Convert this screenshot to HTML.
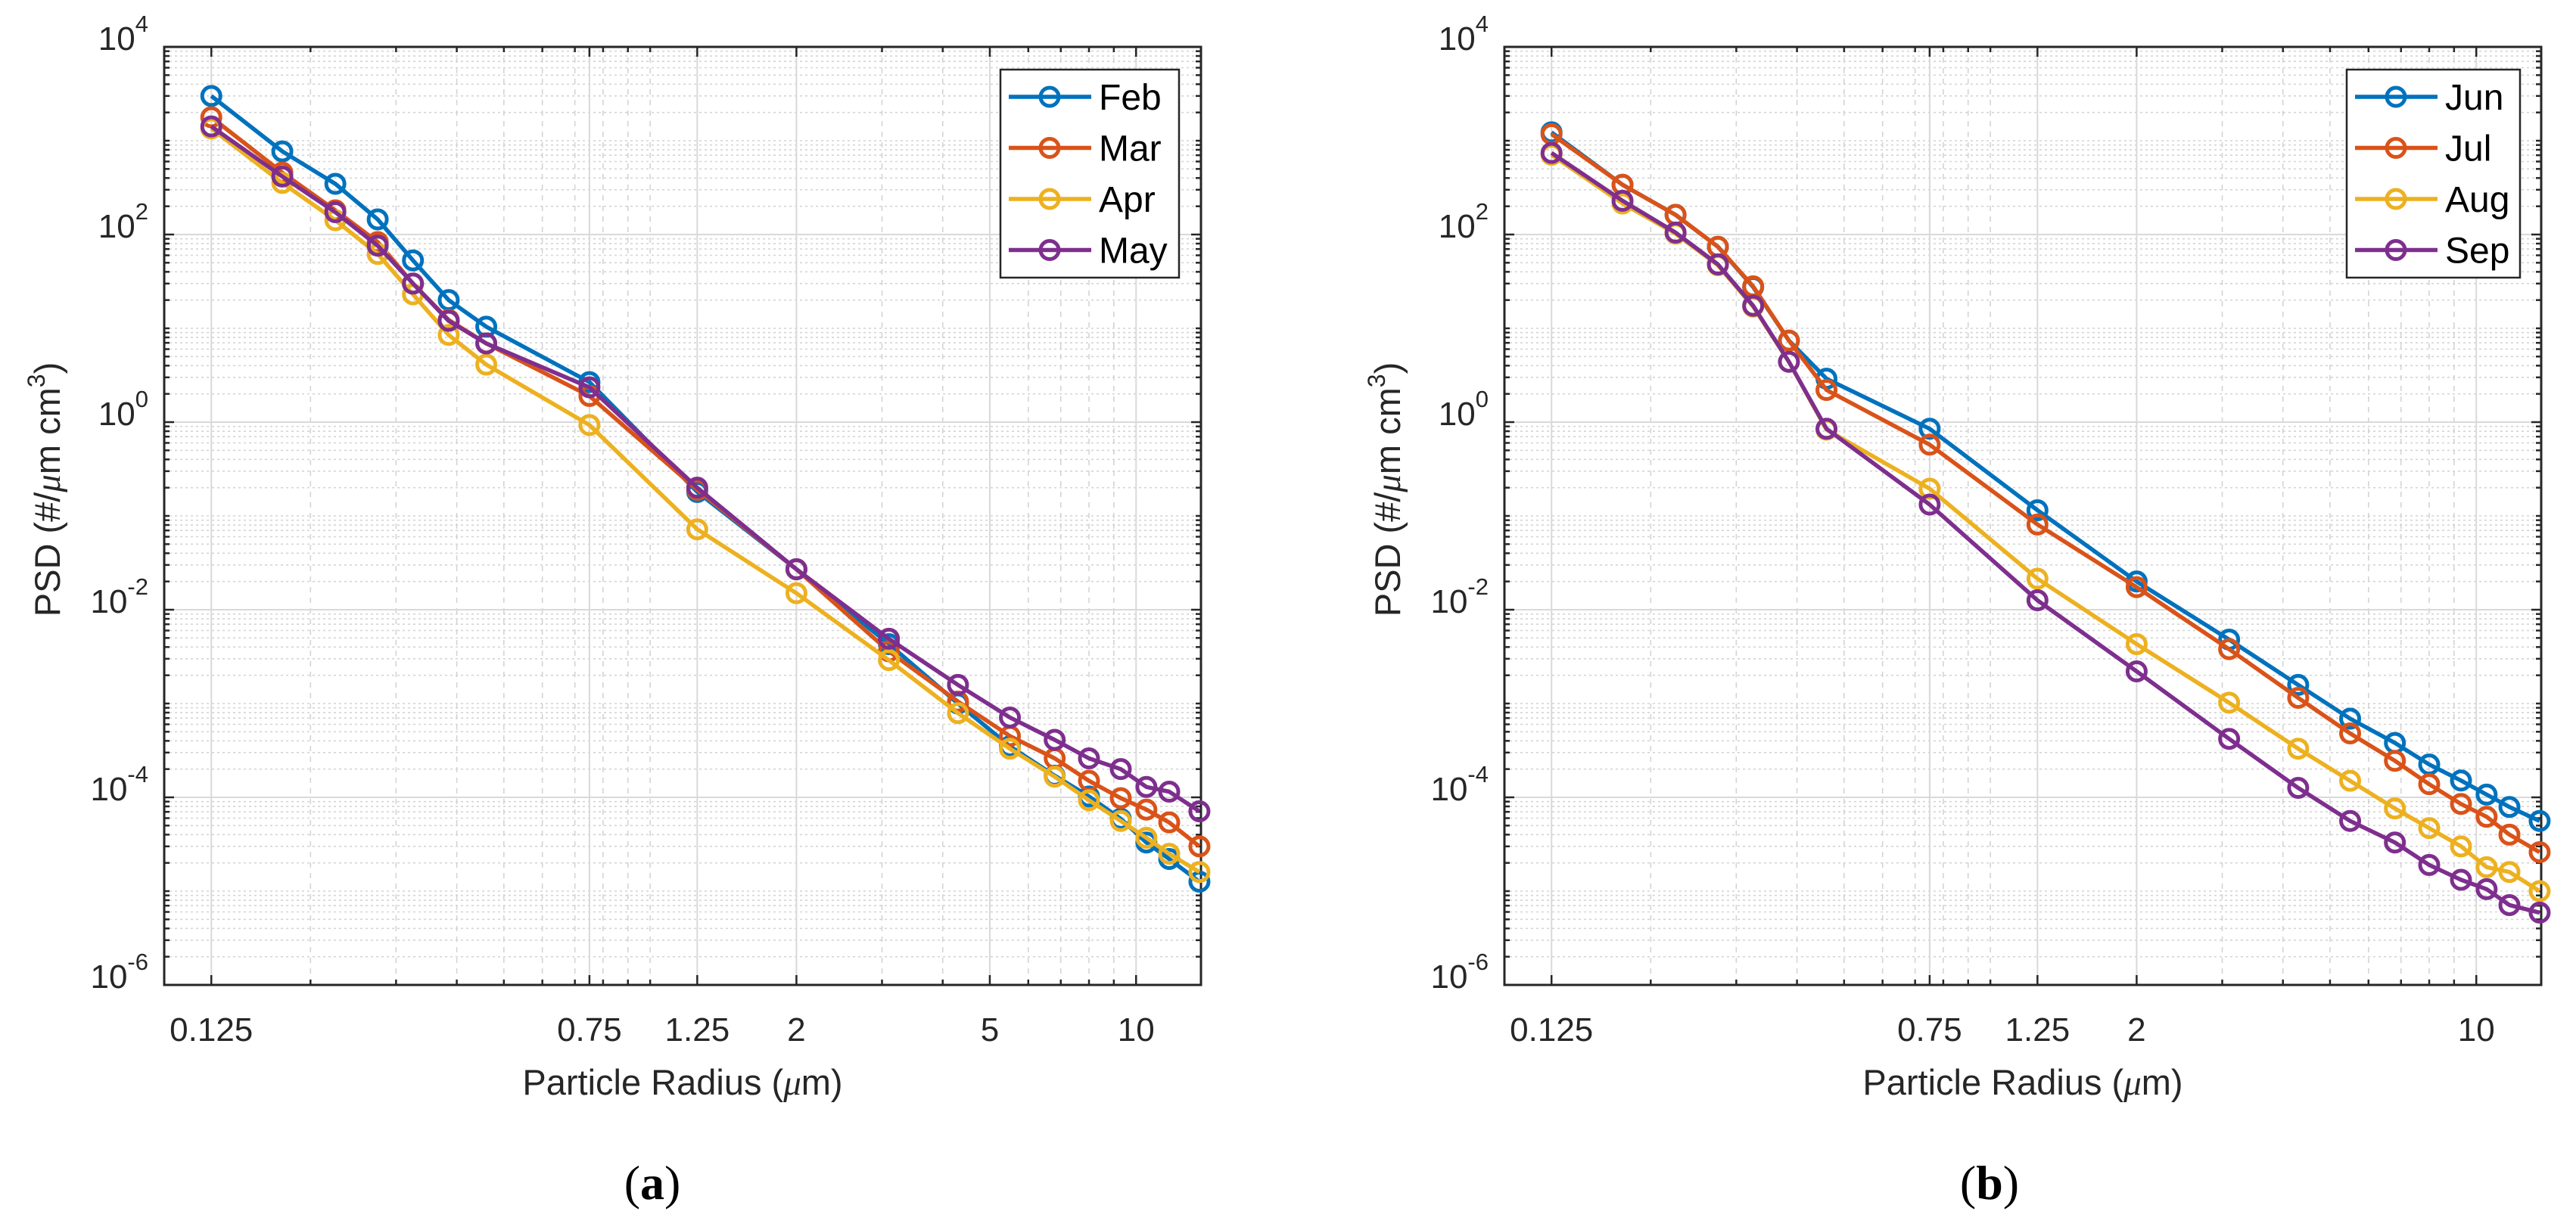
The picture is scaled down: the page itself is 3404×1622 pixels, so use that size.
<!DOCTYPE html>
<html><head><meta charset="utf-8"><style>
html,body{margin:0;padding:0;background:#fff;}
svg{display:block;font-family:"Liberation Sans",Arial,sans-serif;}
</style></head><body>
<svg id="fig" xmlns="http://www.w3.org/2000/svg" width="3404" height="1622" viewBox="0 0 3404 1622"></svg>
<script>
const radii = [0.125,0.175,0.225,0.275,0.325,0.385,0.46,0.75,1.25,2,3.1,4.3,5.5,6.8,8.0,9.3,10.5,11.7,13.5];
const monthsA = ["Feb","Mar","Apr","May"];
const monthsB = ["Jun","Jul","Aug","Sep"];
const febVals = [3000,770,347,145,53,20,10.4,2.67,0.18,0.027,4.3e-3,1.0e-3,3.5e-4,1.7e-4,1.02e-4,5.9e-5,3.3e-5,2.2e-5,1.26e-5];
const marVals = [1780,457,181,83,30,12.3,6.9,1.9,0.19,0.027,3.6e-3,1.05e-3,4.5e-4,2.6e-4,1.5e-4,9.8e-5,7.4e-5,5.4e-5,3.0e-5];
const aprVals = [1350,355,142,62,23,8.5,4.1,0.93,0.072,0.015,2.9e-3,7.9e-4,3.3e-4,1.66e-4,9.3e-5,5.6e-5,3.7e-5,2.5e-5,1.6e-5];
const mayVals = [1420,415,173,76,30,12,6.9,2.35,0.2,0.027,4.9e-3,1.58e-3,7.1e-4,4.1e-4,2.6e-4,2.0e-4,1.29e-4,1.15e-4,7.1e-5];
const junVals = [1230,339,162,74,27.5,7.4,2.9,0.85,0.115,0.02,4.8e-3,1.58e-3,6.9e-4,3.8e-4,2.24e-4,1.51e-4,1.07e-4,7.9e-5,5.6e-5];
const julVals = [1175,339,162,74,28,7.4,2.2,0.575,0.081,0.0174,3.8e-3,1.15e-3,4.8e-4,2.45e-4,1.38e-4,8.5e-5,6.2e-5,4.0e-5,2.6e-5];
const augVals = [708,214,102,47,17,4.4,0.83,0.195,0.0214,4.3e-3,1.02e-3,3.3e-4,1.5e-4,7.6e-5,4.7e-5,3.0e-5,1.8e-5,1.6e-5,1.0e-5];
const sepVals = [741,229,105,48,17.4,4.4,0.85,0.132,0.0126,2.2e-3,4.2e-4,1.26e-4,5.6e-5,3.3e-5,1.9e-5,1.32e-5,1.05e-5,7.1e-6,5.9e-6];
const xTicksA = [0.125,0.75,1.25,2,5,10];
const xTickLabelsA = ["0.125","0.75","1.25","2","5","10"];
const xTicksB = [0.125,0.75,1.25,2,10];
const xTickLabelsB = ["0.125","0.75","1.25","2","10"];
const yTickExps = [4,2,0,-2,-4,-6];
const colors = ["#0072BD","#D95319","#EDB120","#7E2F8E"];

const NS = "http://www.w3.org/2000/svg";
const svg = document.getElementById("fig");
function mk(tag, attrs, parent){
  const e = document.createElementNS(NS, tag);
  for (const k in attrs) e.setAttribute(k, attrs[k]);
  (parent||svg).appendChild(e);
  return e;
}

function drawPlot(cfg){
  const L = cfg.left, R = cfg.left + 1370, T = 62, B = 1302;
  const xMin = Math.log10(0.1), xMax = Math.log10(13.6);
  const yMin = -6, yMax = 4;
  const xs = v => L + (Math.log10(v) - xMin) / (xMax - xMin) * (R - L);
  const ys = v => B - (Math.log10(v) - yMin) / (yMax - yMin) * (B - T);
  const g = mk("g", {});
  
  
  const grid = mk("g", {}, g);
  
  
  const minorX = [];
  for (const d of [0.1,1]) for (let m=2; m<=9; m++) minorX.push(m*d);
  minorX.push(1);
  minorX.push(10);
  const isMajorX = v => cfg.xTicks.some(t => Math.abs(t - v) < 1e-9);
  for (const v of minorX) {
    if (isMajorX(v) || v > 13.6) continue;
    mk("line", {x1:xs(v),x2:xs(v),y1:T,y2:B,stroke:"#d4d4d4","stroke-width":1.6,"stroke-dasharray":"7,7"}, grid);
  }
  for (let e=-6; e<4; e++) {
    for (let m=1; m<=9; m++) {
      if (m===1 && e%2===0) continue;
      const v = m*Math.pow(10,e);
      mk("line", {x1:L,x2:R,y1:ys(v),y2:ys(v),stroke:"#d4d4d4","stroke-width":1.6,"stroke-dasharray":"3,4"}, grid);
    }
  }
  for (const t of cfg.xTicks) mk("line", {x1:xs(t),x2:xs(t),y1:T,y2:B,stroke:"#d9d9d9","stroke-width":2}, grid);
  for (const e of yTickExps) { if (e===4||e===-6) continue; const y = ys(Math.pow(10,e)); mk("line", {x1:L,x2:R,y1:y,y2:y,stroke:"#d9d9d9","stroke-width":2}, grid); }
  const tk = mk("g", {stroke:"#262626","stroke-width":2.5}, g);
  for (const t of cfg.xTicks) { const x = xs(t); mk("line",{x1:x,x2:x,y1:B,y2:B-13},tk); mk("line",{x1:x,x2:x,y1:T,y2:T+13},tk); }
  for (const v of minorX) { if (isMajorX(v) || v > 13.6) continue; const x = xs(v); mk("line",{x1:x,x2:x,y1:B,y2:B-7},tk); mk("line",{x1:x,x2:x,y1:T,y2:T+7},tk); }
  for (let e=-6; e<=4; e++) for (let m=1; m<=9; m++) {
    if (e===4 && m>1) continue;
    const y = ys(m*Math.pow(10,e));
    const len = (m===1 && e%2===0) ? 13 : 7;
    mk("line",{x1:L,x2:L+len,y1:y,y2:y},tk); mk("line",{x1:R,x2:R-len,y1:y,y2:y},tk);
  }
  const box = mk("rect", {x:L,y:T,width:R-L,height:B-T,fill:"none",stroke:"#262626","stroke-width":3}, g);
  
  
  cfg.xTicks.forEach((t,i) => {
    const tx = mk("text", {x:xs(t), y:1376, "text-anchor":"middle", "font-size":44, fill:"#262626"}, g);
    tx.textContent = cfg.xLabels[i];
    
    
  });
  for (const e of yTickExps) {
    const y = ys(Math.pow(10,e));
    const tx = mk("text", {x:L-21, y:y+4, "text-anchor":"end", "font-size":44, fill:"#262626"}, g);
    
    
    const a = mk("tspan", {}, tx); a.textContent = "10";
    const b = mk("tspan", {dy:-24, "font-size":31}, tx); b.textContent = String(e);
  }
  const xl = mk("text", {x:(L+R)/2, y:1447, "text-anchor":"middle", "font-size":47, fill:"#262626"}, g);
  
  
  xl.innerHTML = 'Particle Radius (<tspan font-family="Liberation Serif" font-style="italic">μ</tspan>m)';
  const yl = mk("text", {x:0, y:0, "text-anchor":"middle", "font-size":47, fill:"#262626", transform:`translate(${L-138},647) rotate(-90)`}, g);
  
  
  yl.innerHTML = 'PSD (#/<tspan font-family="Liberation Serif" font-style="italic">μ</tspan>m cm<tspan dy="-20" font-size="32">3</tspan><tspan dy="20">)</tspan>';
  cfg.series.forEach((vals,si) => {
    const sg = mk("g", {}, g);
    
    
    const pts = vals.map((v,i) => xs(radii[i]).toFixed(1)+","+ys(v).toFixed(1)).join(" ");
    mk("polyline", {points:pts, fill:"none", stroke:colors[si], "stroke-width":5.5, "stroke-linejoin":"round"}, sg);
    vals.forEach((v,i) => {
      const c = mk("circle", {cx:xs(radii[i]), cy:ys(v), r:12, fill:"none", stroke:colors[si], "stroke-width":5}, sg);
      
      
    });
  });
  const lg = mk("g", {}, g);
  
  
  const lx = cfg.legendX, lw = cfg.legendW;
  mk("rect", {x:lx, y:92, width:lw, height:275, fill:"#fff", stroke:"#262626", "stroke-width":2.5}, lg);
  cfg.months.forEach((m,i) => {
    const ey = 128 + i*67.5;
    const en = mk("g", {}, lg);
    
    
    mk("line", {x1:lx+11, x2:lx+120, y1:ey, y2:ey, stroke:colors[i], "stroke-width":5.5}, en);
    mk("circle", {cx:lx+65, cy:ey, r:12, fill:"none", stroke:colors[i], "stroke-width":5}, en);
    const t = mk("text", {x:lx+130, y:ey+17, "font-size":48, fill:"#000"}, en);
    t.textContent = m;
  });
  const cap = mk("text", {x:cfg.capX, y:1585, "text-anchor":"middle", "font-size":64, "font-family":"Liberation Serif, serif", fill:"#000"}, g);
  
  
  cap.innerHTML = '(<tspan font-weight="bold">' + cfg.cap + '</tspan>)';
}

drawPlot({name:"plot-a", left:217, xTicks:xTicksA, xLabels:xTickLabelsA, series:[febVals,marVals,aprVals,mayVals], months:monthsA, legendX:1322, legendW:236, capX:862, cap:"a"});
drawPlot({name:"plot-b", left:1988, xTicks:xTicksB, xLabels:xTickLabelsB, series:[junVals,julVals,augVals,sepVals], months:monthsB, legendX:3101, legendW:229, capX:2629, cap:"b"});
</script>
</body></html>
